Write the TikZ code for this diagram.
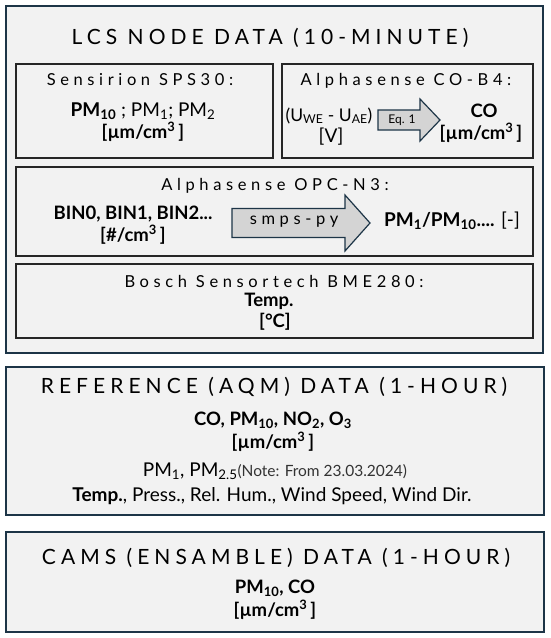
\documentclass[tikz,border=0pt]{standalone}
\usepackage{fontspec}
\setmainfont{Lato}
\newfontfamily\ttlfont[LetterSpace=24]{Lato}
\newfontfamily\subfont[LetterSpace=28]{Lato}
\usetikzlibrary{positioning}
\definecolor{navy}{HTML}{1D3547}
\definecolor{boxfill}{HTML}{F2F2F2}
\definecolor{arrowfill}{HTML}{D4D4D4}
\newcommand{\lsub}[1]{\textsubscript{#1}}
\newcommand{\lsup}[1]{\textsuperscript{#1}}
\begin{document}
\begin{tikzpicture}[x=1pt,y=-1pt,
  outerbox/.style={draw=navy,line width=1.5pt,fill=boxfill,rectangle,inner sep=0pt},
  innerbox/.style={draw=black!85,line width=1.8pt,fill=boxfill,rectangle,inner sep=0pt},
  blockarrow/.style={draw=navy,line width=1.2pt,fill=arrowfill,line join=miter},
  ttl/.style={font=\fontsize{21}{24}\ttlfont,anchor=base,inner sep=0pt},
  sub/.style={font=\fontsize{16.5}{20}\subfont,anchor=base,inner sep=0pt},
  txt/.style={font=\fontsize{19}{22}\selectfont,anchor=base,inner sep=0pt},
  btxt/.style={font=\fontsize{18.5}{22}\selectfont\bfseries,anchor=base,inner sep=0pt}]
\useasboundingbox (0,0) rectangle (550,638);
\fill[white] (0,0) rectangle (550,638);
% boxes
\node[outerbox,minimum width=537pt,minimum height=347pt] (lcs) at (274.5,179.5) {};
\node[innerbox,minimum width=257pt,minimum height=94pt] (sps) at (144.5,111) {};
\node[innerbox,minimum width=251pt,minimum height=94pt] (cob) at (407.5,111) {};
\node[innerbox,minimum width=517pt,minimum height=89pt] (opc) at (274.5,211.5) {};
\node[innerbox,minimum width=517pt,minimum height=74pt] (bme) at (274.5,301) {};
\node[outerbox,minimum width=538pt,minimum height=148pt] (ref) at (275,441) {};
\node[outerbox,minimum width=538pt,minimum height=100pt] (cams) at (275,582) {};
% block arrows
\draw[blockarrow] (378,110) -- (420,110) -- (420,99) -- (440,120) -- (420,141) -- (420,130) -- (378,130) -- cycle;
\draw[blockarrow] (232,208.5) -- (345,208.5) -- (345,195) -- (370,223) -- (345,251) -- (345,237.5) -- (232,237.5) -- cycle;
% texts LCS
\node[ttl] (t1) at (270,44) {LCS NODE DATA (10-MINUTE)};
\node[sub] (s1) at (140,85) {Sensirion SPS30:};
\node[txt] (s1a) at (143,116) {\textbf{PM\lsub{10}} ; PM\lsub{1}; PM\lsub{2}};
\node[btxt] (s1b) at (143,138) {[µm/cm\lsup{3}\,]};
\node[sub] (s2) at (406,85) {Alphasense CO-B4:};
\node[font=\fontsize{17.5}{20}\selectfont,anchor=base,inner sep=0pt] (s2a) at (329,121) {(U\lsub{WE} - U\lsub{AE})};
\node[txt] (s2b) at (331,142) {[V]};
\node[font=\fontsize{12}{14}\selectfont,inner sep=0pt] (eq) at (402,120) {Eq. 1};
\node[btxt] (s2c) at (484,117) {CO};
\node[btxt] (s2d) at (481,139) {[µm/cm\lsup{3}\,]};
\node[sub] (s3) at (275,190) {Alphasense OPC-N3:};
\node[btxt] (s3a) at (133,219) {BIN0, BIN1, BIN2...};
\node[btxt] (s3b) at (133,241) {[\#/cm\lsup{3}\,]};
\node[sub] (smps) at (294,224) {smps-py};
\node[txt] (s3c) at (452,226) {\textbf{PM\lsub{1}/PM\lsub{10}....} [-]};
\node[sub] (s4) at (274,287) {Bosch Sensortech BME280:};
\node[btxt] (s4a) at (269,306) {Temp.};
\node[btxt] (s4b) at (275,327) {[°C]};
% reference
\node[ttl] (t2) at (274,393) {REFERENCE (AQM) DATA (1-HOUR)};
\node[btxt] (r1) at (273,425) {CO, PM\lsub{10}, NO\lsub{2}, O\lsub{3}};
\node[btxt] (r2) at (273,448) {[µm/cm\lsup{3}\,]};
\node[txt] (r3) at (275,476) {PM\lsub{1}, PM\lsub{2.5}{\fontsize{15.5}{17}\selectfont\color{black!80}(Note: From 23.03.2024)}};
\node[txt] (r4) at (272,501) {\textbf{Temp.}, Press., Rel. Hum., Wind Speed, Wind Dir.};
% cams
\node[ttl] (t3) at (276,564) {CAMS (ENSAMBLE) DATA (1-HOUR)};
\node[btxt] (c1) at (275,593) {PM\lsub{10}, CO};
\node[btxt] (c2) at (275,616) {[µm/cm\lsup{3}\,]};
\end{tikzpicture}
\end{document}
